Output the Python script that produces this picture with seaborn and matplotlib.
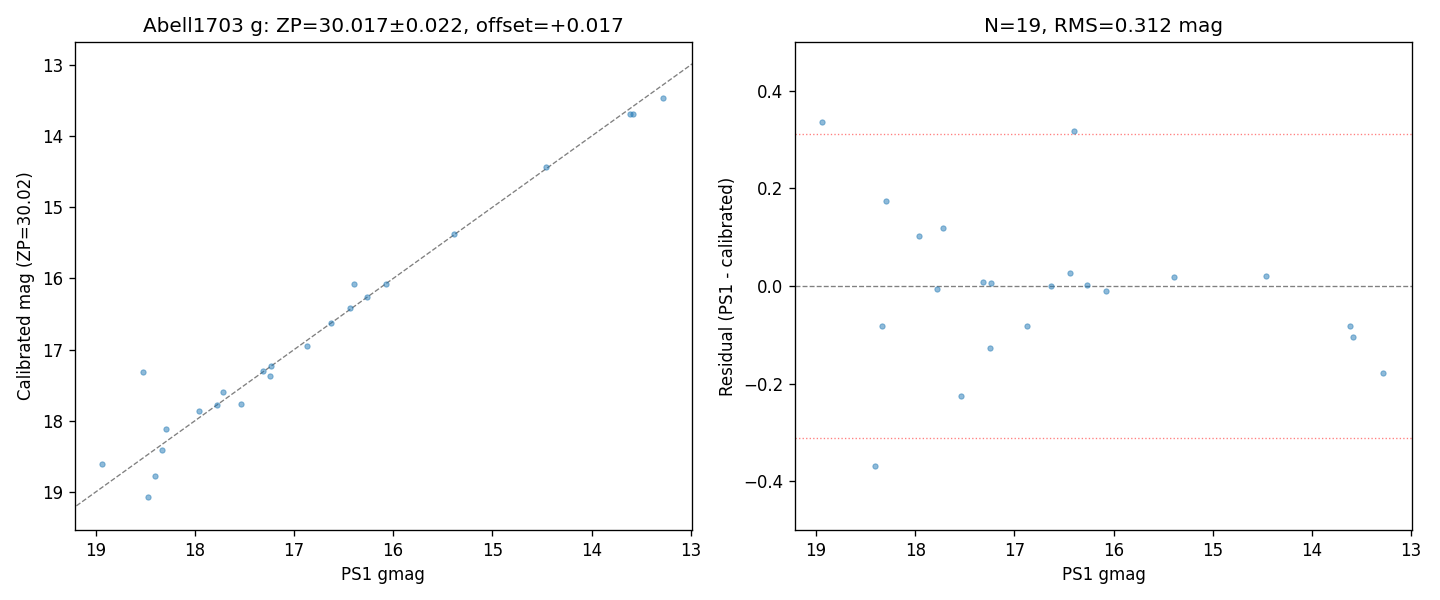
import matplotlib
matplotlib.use("Agg")
import matplotlib.pyplot as plt
import seaborn as sns
import pandas as pd

# values
ps1_gmag = [18.936, 16.395, 18.291, 17.958, 17.716, 17.313, 17.232, 17.777, 16.627,
            16.436, 16.264, 16.073, 18.331, 16.869, 17.242, 17.535, 18.402, 15.387,
            14.459, 13.612, 13.582, 13.280, 18.524, 18.473]
calibrated = [18.600, 16.078, 18.117, 17.856, 17.598, 17.305, 17.226, 17.784, 16.627,
              16.409, 16.262, 16.084, 18.414, 16.952, 17.370, 17.761, 18.770, 15.369,
              14.439, 13.693, 13.687, 13.459, 17.318, 19.074]
residual = [0.336, 0.317, 0.174, 0.102, 0.118, 0.008, 0.006, -0.007, 0.000,
            0.027, 0.002, -0.011, -0.083, -0.083, -0.128, -0.226, -0.368, 0.018,
            0.020, -0.081, -0.105, -0.179, 1.206, -0.601]
zp = 30.017
zp_err = 0.022
offset = 0.017
n_used = 19
rms = 0.312

df = pd.DataFrame({"ps1": ps1_gmag, "cal": calibrated, "resid": residual})

fig, (ax1, ax2) = plt.subplots(1, 2, figsize=(12, 5), dpi=120)
fig.subplots_adjust(left=0.052, right=0.9806, bottom=0.1167, top=0.93, wspace=0.168)

# left: calibrated vs PS1
ax1.plot([19.6, 12.5], [19.6, 12.5], color="gray", linestyle="--", linewidth=0.8, zorder=1)
sns.scatterplot(data=df, x="ps1", y="cal", ax=ax1, s=10, alpha=0.5,
                color="C0", edgecolor="C0", linewidth=0.6, zorder=2)
ax1.set_xlim(19.21, 12.99)
ax1.set_ylim(19.534, 12.677)
ax1.set_xlabel("PS1 gmag")
ax1.set_ylabel(f"Calibrated mag (ZP={zp:.2f})")
ax1.set_title(f"Abell1703 g: ZP={zp:.3f}\u00b1{zp_err:.3f}, offset={offset:+.3f}")

# right: residuals
ax2.axhline(0, color="gray", linestyle="--", linewidth=0.8, zorder=1)
ax2.axhline(rms, color="red", linestyle=":", linewidth=0.8, alpha=0.5, zorder=1)
ax2.axhline(-rms, color="red", linestyle=":", linewidth=0.8, alpha=0.5, zorder=1)
sns.scatterplot(data=df, x="ps1", y="resid", ax=ax2, s=10, alpha=0.5,
                color="C0", edgecolor="C0", linewidth=0.6, zorder=2)
ax2.set_xlim(19.21, 12.99)
ax2.set_ylim(-0.5, 0.5)
ax2.set_xlabel("PS1 gmag")
ax2.set_ylabel("Residual (PS1 - calibrated)")
ax2.set_title(f"N={n_used}, RMS={rms:.3f} mag")

fig.savefig("out.png")
plt.close(fig)
